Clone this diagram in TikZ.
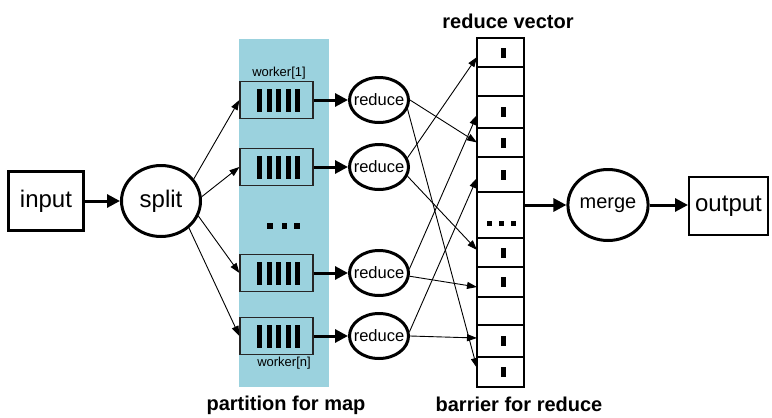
\documentclass[tikz,border=0pt]{standalone}
\usepackage{fontspec}
\setmainfont{Liberation Sans}
\usetikzlibrary{shapes.geometric,arrows.meta}
\definecolor{bgblue}{RGB}{155,210,222}
\newcommand{\myfs}[1]{\fontsize{#1}{#1}\selectfont}
\begin{document}
\begin{tikzpicture}[x=1pt,y=-1pt,
  thickbox/.style={draw,line width=3pt,minimum width=75pt,minimum height=59pt,inner sep=0pt,font=\myfs{24}},
  thinbox/.style={draw,line width=2pt,minimum width=79pt,minimum height=58pt,inner sep=0pt,font=\myfs{24}},
  oval/.style={ellipse,draw,line width=3pt,inner sep=0pt},
  bigoval/.style={oval,minimum width=79pt,minimum height=71pt,font=\myfs{24}},
  mergeoval/.style={oval,minimum width=79pt,minimum height=71pt,font=\myfs{20}},
  redoval/.style={oval,minimum width=59pt,minimum height=45pt,font=\myfs{16.5}},
  worker/.style={draw=black!85,line width=1.2pt,minimum width=73pt,minimum height=37pt,inner sep=0pt,
    path picture={\foreach \dx in {-17,-7.5,2,11.5,21}
      \fill ([xshift=\dx pt-2.5pt,yshift=-11.5pt]path picture bounding box.center) rectangle ++(5pt,23pt);}},
  cellbase/.style={draw,line width=1.6pt,minimum width=47pt,inner sep=0pt,outer sep=0pt,anchor=north},
  markcell/.style={cellbase,path picture={\fill ([xshift=0pt,yshift=-5pt]path picture bounding box.center) rectangle ++(5pt,10pt);}},
  dotcell/.style={cellbase,path picture={\foreach \dx in {-11,0.5,12.5}
      \fill ([xshift=\dx pt-2.5pt,yshift=-10.5pt]path picture bounding box.center) rectangle ++(5pt,5pt);}},
  thinarrow/.style={line width=0.9pt,-{Triangle[length=10pt,width=7pt]}},
  thickarrow/.style={line width=3pt,-{Triangle[length=13pt,width=13pt]}},
  lbl/.style={font=\myfs{13},inner sep=0pt},
  title/.style={font=\bfseries\myfs{20},inner sep=0pt}
]
\useasboundingbox (0,0) rectangle (772,418);
% blue partition band
\fill[bgblue] (239,39) rectangle (329,387);
\foreach \x in {267,281.5,294} \fill (\x,223) rectangle ++(5.5,5.5);

% nodes
\node[thickbox] (input) at (46,201) {input};
\node[bigoval] (split) at (161,201) {split};
\node[worker] (w1) at (276.5,100) {};
\node[worker] (w2) at (276.5,167) {};
\node[worker] (w3) at (276.5,273) {};
\node[worker] (w4) at (276.5,336) {};
\node[lbl] (wl1) at (279,73) {worker[1]};
\node[lbl] (wln) at (284,363) {worker[n]};
\node[redoval] (r1) at (379,100) {\makebox[0pt]{reduce}};
\node[redoval] (r2) at (379,167) {\makebox[0pt]{reduce}};
\node[redoval] (r3) at (379,273) {\makebox[0pt]{reduce}};
\node[redoval] (r4) at (379,336) {\makebox[0pt]{reduce}};

% reduce vector cells
\node[markcell,minimum height=29pt] (c1) at (500.5,38) {};
\node[cellbase,minimum height=29pt] (c2) at (500.5,67) {};
\node[markcell,minimum height=32pt] (c3) at (500.5,96) {};
\node[markcell,minimum height=29pt] (c4) at (500.5,128) {};
\node[markcell,minimum height=35pt] (c5) at (500.5,157) {};
\node[dotcell,minimum height=46pt] (c6) at (500.5,192) {};
\node[markcell,minimum height=29pt] (c7) at (500.5,238) {};
\node[markcell,minimum height=30pt] (c8) at (500.5,267) {};
\node[cellbase,minimum height=28pt] (c9) at (500.5,297) {};
\node[markcell,minimum height=32pt] (c10) at (500.5,325) {};
\node[markcell,minimum height=30pt] (c11) at (500.5,357) {};

\node[mergeoval] (merge) at (608,205) {merge};
\node[thinbox] (output) at (728.5,206) {output};

\node[title] (tv) at (508,21) {reduce vector};
\node[title] (tb) at (519,404.5) {barrier for reduce};
\node[title] (tp) at (286,405.5) {partition for map};

% connectors
\draw[thickarrow] (input) -- (split);
\draw[thinarrow] (split.34) -- (w1.west);
\draw[thinarrow] (split.6) -- (w2.west);
\draw[thinarrow] (split.-22) -- (w3.west);
\draw[thinarrow] (split.-44) -- (w4.west);
\foreach \i in {1,2,3,4} {
  \draw[thickarrow] (w\i) -- (r\i);
}
\draw[thinarrow] (r1.east) -- (c4.west);
\draw[thinarrow] (r1.-18) -- ([yshift=4pt]c11.west);
\draw[thinarrow] (r2.18) -- ([yshift=-4.5pt]c1.west);
\draw[thinarrow] (r2.-18) -- ([yshift=2.5pt]c7.west);
\draw[thinarrow] (r3.8) -- ([yshift=-3pt]c3.west);
\draw[thinarrow] (r3.-6) -- ([yshift=-5pt]c8.west);
\draw[thinarrow] (r4.8) -- ([yshift=-3.5pt]c5.west);
\draw[thinarrow] (r4.east) -- ([yshift=3pt]c10.west);
\draw[thickarrow] (c6.east |- merge) -- (merge);
\draw[thickarrow] (merge) -- (merge -| output.west);
\end{tikzpicture}
\end{document}
